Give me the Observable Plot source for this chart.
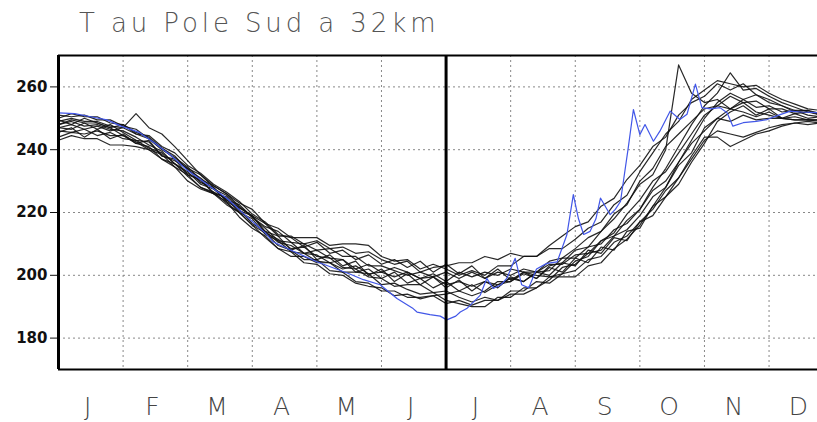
<!DOCTYPE html>
<html><head><meta charset="utf-8">
<script src="https://cdn.jsdelivr.net/npm/d3@7"></script>
<script src="https://cdn.jsdelivr.net/npm/@observablehq/plot@0.6"></script>
<style>
body{margin:0;background:#fff;}
#wrap{position:relative;width:817px;height:422px;overflow:hidden;background:#fff;}
#title{position:absolute;left:79px;top:8px;font-family:"DejaVu Sans",sans-serif;font-weight:200;font-size:26px;letter-spacing:3.9px;color:#555;white-space:nowrap;line-height:1.2;}
#chart{position:absolute;left:0;top:0;}
</style></head><body>
<div id="wrap"><div id="chart"></div><div id="title">T au Pole Sud a 32km</div></div>
<script>
// x in month units (0 = 1 Jan, 6 = 1 Jul, 12 = end of Dec)
const grid = [0,0.2,0.4,0.6,0.8,1,1.2,1.4,1.6,1.8,2,2.2,2.4,2.6,2.8,3,3.2,3.4,3.6,3.8,4,4.2,4.4,4.6,4.8,5,5.2,5.4,5.6,5.8,6,6.2,6.4,6.6,6.8,7,7.2,7.4,7.6,7.8,8,8.2,8.4,8.6,8.8,9,9.2,9.4,9.6,9.8,10,10.2,10.4,10.6,10.8,11,11.2,11.4,11.6,11.8];

const s1 = [251,250.5,251,249.5,249.5,247.5,246.5,243.5,240.5,238,233.5,231,227.5,225.5,221.5,219,216.5,212.5,212.5,210,211,208.5,209,207,207.5,205,203.5,204.5,201,202.5,203,204,204,206,205,207,206,206,208.5,208.5,211.5,215,217,222.5,225.5,233,239,245,249,256,259,262,261,260,260.5,258,256,254.5,253,252.5];
const s2 = [243,244.5,243.5,243.5,241.5,241.5,241,240,237,235.5,231.5,228,226.5,223,220,216,213.5,209.5,208,205,205,201.5,201,198,197.5,195,195,193,193,193.5,191,192,190.5,192,192,195,195,198,197.5,200.5,201.5,205,206,210.5,212.5,217,221,227,231,238,244,244,241,243,245,246,247.5,248.5,249,248.5];
const s3 = [247,248,246.5,247.5,246,247,251.5,247,245,241,236.5,232,228.5,226,222,218.5,215,211,210.5,207,206.5,204,205,201,202,199,201,197.5,199,196,198,195,197,194.5,197,198,200.5,199,203,204,208,209,214,218,223,229,232,240,267,258,255,256,253,255,252,251,250,249.5,249.5,249];
const s4 = [248,249,247.5,248,246.5,246,244,241.5,239.5,235.5,232.5,230,226.5,224.5,220,218,213,211,207.5,207,204.5,204,201,201,200.5,197,197.5,195.5,194,194.5,192,191,190,190,193,193,196,196,199.5,200.5,204.5,206,211,213.5,219.5,224,230,233,239,245,251,254,253,256,253.5,254,252,252.5,251,250.5];
const s5 = [249,250,249,249,247.5,247,245,243.5,240,237.5,234.5,230.5,228.5,226,223,221,216.5,215,212,212,212,209.5,210,210,209.5,206,204.5,205,202,203.5,202,200,201.5,200,203,203,206,206,209.5,212.5,215.5,217,222,224.5,230.5,235,241,244,251,255,257,261,259,261,257.5,256,254,252.5,252.5,251.5];
const s6 = [244,245.5,245,246,244.5,244.5,242.5,240,238.5,234.5,232,228,226,222.5,220,216,212,208.5,207.5,204,203.5,200.5,200,197.5,196.5,196,193.5,194,192.5,193.5,194,195,193.5,195,198,198,201,201,204.5,205.5,205.5,209,210,214.5,216.5,221,227,230,236,242,246,250,249,251,249.5,250,250,249.5,249.5,249.5];
const s7 = [247,246.5,248.5,246.5,248,245.5,243,242.5,238,236.5,234,232,228,224,222.5,218.5,215.5,214,210.5,210,208,208.5,206,206,203,203,201.5,200,201,199.5,201,199,201,199,201,200,202,201,203.5,203.5,206.5,207,211,212.5,217.5,221,228,234,241,248,254,258,264.5,259,259.5,257,255,253.5,252,251.5];
const s8 = [248,249.5,248.5,248.5,247,244.5,242,241,237,234.5,230,227.5,226,223.5,218.5,215,212.5,208.5,206,206,204,204,202,203,200.5,201,199.5,201,199,200.5,198,201,199.5,201,200,202,201,200,199.5,199.5,199.5,203,204,208.5,211.5,216,222,225,231,237,243,246,245,244,245.5,247,248,248.5,248,248.5];
const s9 = [250,251.5,250.5,250.5,248.5,248,245.5,244,240.5,237,234,229.5,228,223.5,221,216.5,214,210.5,209.5,207,208,205.5,205,202,203.5,201,202.5,201,199,199.5,197,198,196.5,198,197,199,198,201,201.5,205.5,208.5,212,214,219.5,222.5,230,234,241,245,249,253,254,257,255,255.5,253,253,251.5,252,251];
const s10 = [246,245.5,246.5,244.5,245.5,243.5,243,240.5,239,235.5,233,229,227.5,224,221.5,219,213.5,211.5,208.5,209,206,205.5,202.5,202,199.5,199,196.5,197,197,194.5,195,193,191.5,193,192,194,194,196,198.5,202.5,203.5,207,208,212.5,214.5,219,225,228,235,239,247,250,253,252,250.5,252,250,250.5,249.5,249.5];
const s11 = [245.5,247,244,246.5,243.5,245,242,243,238,237,232,230.5,226,225,220.5,219,214,212.5,208,209.5,205,206.5,203,204.5,200,202,198,200.5,197,199.5,196,198.5,195,198,196,199.5,198,201,200,204,203,208,207,212,211,217,219,225,229,236,242,249,252,254,251,253,250,251.5,250,250.5];
const s12 = [249.5,248,250,248.5,247,248,245,244.5,241,239,235,232.5,229,226.5,223.5,219.5,217,213,212,209,210.5,207,208,205,206.5,203.5,205,202.5,204.5,201,203.5,200.5,203,199,202,198.5,201,199,202.5,201,205.5,204,209,208,214,215,222,228,236,243,250,255,258,256,257.5,255,254,252,252.5,251];

const blueX = [0,0.25,0.5,0.75,0.97,1.25,1.5,1.75,1.99,2.3,2.6,2.9,3.2,3.32,3.6,4.0,4.3,4.5,4.72,4.98,5.24,5.49,5.55,5.75,5.91,6.01,6.15,6.22,6.32,6.45,6.53,6.63,6.73,6.85,6.94,7.07,7.17,7.28,7.4,7.56,7.72,7.87,7.97,8.05,8.13,8.23,8.32,8.39,8.54,8.62,8.70,8.82,8.9,9.0,9.08,9.21,9.31,9.47,9.62,9.73,9.86,9.96,10.09,10.24,10.35,10.44,10.6,10.8,10.97,11.15,11.33,11.5,11.74];
const blueT = [251.7,251.5,250.5,249.5,247.5,245.5,242,238,233.5,229,224.6,219,213.5,210.7,208,204.3,202,200.5,198.6,197,192.6,189.4,188.3,187.5,187,185.8,187,188.3,189.4,192,193.7,199,195.8,197,199,205.4,197,196,202,203.8,204.3,212.9,225.7,218,213,214,218,224.6,219.3,221,223.5,240.6,252.8,244.8,248,242.7,245.9,252.3,249.6,251.3,260.9,253.4,253,253.4,251.8,247.5,248.6,249,249.6,251,252.3,252,251.8];

const monthLabels = ["J","F","M","A","M","J","J","A","S","O","N","D"];
const monthMid = [0.5,1.5,2.5,3.5,4.5,5.5,6.5,7.5,8.5,9.5,10.5,11.5];
const monthStarts = [1,2,3,4,5,7,8,9,10,11];
const yTicks = [180,200,220,240,260];

const blackSeries = [s1,s2,s3,s4,s5,s6,s7,s8,s9,s10,s11,s12];
const blackRows = blackSeries.flatMap((s, k) => s.map((T, i) => ({m: grid[i], T, s: k})));
const blueRows = blueX.map((m, i) => ({m, T: blueT[i]}));

const chart = Plot.plot({
  width: 817, height: 422,
  marginTop: 55, marginBottom: 53, marginLeft: 58, marginRight: 0,
  style: {fontFamily: "DejaVu Sans, sans-serif", fontSize: "15px", fontWeight: "bold", background: "transparent", color: "#111"},
  x: {domain: [0, 11.75], axis: null},
  y: {domain: [170, 270], ticks: yTicks, tickSize: 8, tickPadding: 3, label: null},
  marks: [
    Plot.ruleX(monthStarts, {stroke: "#888", strokeDasharray: "2,3", strokeWidth: 1}),
    Plot.ruleY(yTicks, {stroke: "#888", strokeDasharray: "2,3", strokeWidth: 1}),
    Plot.line(blackRows, {x: "m", y: "T", z: "s", stroke: "#111", strokeWidth: 1.2, strokeOpacity: 0.9, clip: true}),
    Plot.line(blueRows, {x: "m", y: "T", stroke: "#4257e8", strokeWidth: 1.2, clip: true}),
    Plot.ruleX([0, 6], {stroke: "#000", strokeWidth: 3}),
    Plot.ruleY([170, 270], {stroke: "#000", strokeWidth: 2}),
    Plot.text(monthLabels, {x: (d, i) => monthMid[i], frameAnchor: "bottom", dy: 45, text: d => d,
      fontSize: 25, fontWeight: 200, fill: "#444", dx: -3})
  ]
});
document.getElementById("chart").appendChild(chart);
</script>
</body></html>
